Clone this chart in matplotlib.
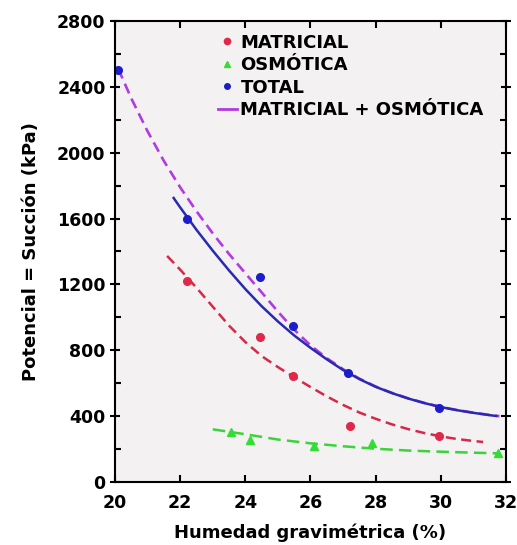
import matplotlib.pyplot as plt
from matplotlib.lines import Line2D
from matplotlib.ticker import MultipleLocator

# measured points
mat_x = [22.2, 24.45, 25.45, 27.2, 29.95]
mat_y = [1220, 882, 644, 340, 280]
osm_x = [23.55, 24.15, 26.1, 27.9, 31.75]
osm_y = [305, 258, 220, 237, 177]
tot_x = [20.1, 22.2, 24.45, 25.45, 27.15, 29.95]
tot_y = [2505, 1600, 1248, 950, 665, 450]

# fitted curves
fit_mat_x = [21.6, 22.0, 22.5, 23.0, 23.5, 24.0, 24.5, 25.0, 25.5, 26.0, 26.5,
             27.0, 27.5, 28.0, 28.5, 29.0, 29.5, 30.0, 30.5, 31.0, 31.3]
fit_mat_y = [1373, 1290, 1180, 1065, 950, 850, 765, 698, 636, 577, 520,
             468, 422, 384, 350, 321, 297, 277, 261, 249, 243]
fit_osm_x = [23.0, 24.0, 25.0, 26.0, 27.0, 28.0, 29.0, 30.0, 31.0, 31.8]
fit_osm_y = [320, 290, 258, 235, 217, 202, 191, 184, 178, 174]
fit_tot_x = [21.8, 22.0, 22.5, 23.0, 23.5, 24.0, 24.5, 25.0, 25.5, 26.0, 26.5,
             27.0, 27.5, 28.0, 28.5, 29.0, 29.5, 30.0, 30.5, 31.0, 31.5, 31.7]
fit_tot_y = [1725, 1668, 1532, 1405, 1285, 1172, 1068, 975, 890, 815, 745,
             680, 625, 578, 540, 507, 479, 455, 436, 420, 406, 401]
fit_sum_x = [20.1, 20.5, 21.0, 21.5, 22.0, 22.5, 23.0, 23.5, 24.0, 24.5, 25.0,
             25.5, 26.0, 26.5, 27.0, 27.5, 28.0, 28.5, 29.0, 29.5, 30.0, 30.5,
             31.0, 31.5, 31.8]
fit_sum_y = [2510, 2330, 2130, 1950, 1790, 1645, 1510, 1385, 1268, 1152, 1035,
             925, 830, 752, 685, 628, 580, 541, 508, 480, 456, 437,
             421, 407, 400]

c_red = '#e0284a'
c_green = '#33dd33'
c_blue = '#1c1cc8'
c_purple = '#b23be0'

plt.rcParams['font.family'] = 'DejaVu Sans'
plt.rcParams['font.weight'] = 'bold'

fig = plt.figure(figsize=(5.17, 5.45), dpi=100)
ax = fig.add_axes([0.2224, 0.1156, 0.7563, 0.8459])
ax.set_facecolor('#f3f1f1')

ax.plot(fit_sum_x, fit_sum_y, color=c_purple, lw=1.9, ls=(0, (4, 2.2)))
ax.plot(fit_tot_x, fit_tot_y, color='#2a2ab0', lw=1.8)
ax.plot(fit_mat_x, fit_mat_y, color='#d42a48', lw=1.8, ls=(0, (4, 2.2)))
ax.plot(fit_osm_x, fit_osm_y, color='#3ad43a', lw=1.8, ls=(0, (5, 2.5)))

ax.plot(mat_x, mat_y, 'o', color=c_red, ms=5.5)
ax.plot(osm_x, osm_y, '^', color=c_green, ms=6)
ax.plot(tot_x, tot_y, 'o', color=c_blue, ms=5.5, clip_on=False)

ax.set_xlim(20, 32)
ax.set_ylim(0, 2800)
ax.xaxis.set_major_locator(MultipleLocator(2))
ax.yaxis.set_major_locator(MultipleLocator(400))
ax.yaxis.set_minor_locator(MultipleLocator(200))

for s in ax.spines.values():
    s.set_linewidth(1.5)
ax.tick_params(axis='y', which='major', direction='inout', length=7.5, width=1.5,
               labelsize=12.5, right=True, pad=3)
ax.tick_params(axis='y', which='minor', direction='in', length=4.5, width=1.5, right=True)
ax.tick_params(axis='x', which='major', direction='in', length=5, width=1.5,
               labelsize=12.5, top=True, pad=9)

ax.set_xlabel('Humedad gravimétrica (%)', fontsize=13, fontweight='bold', labelpad=8)
ax.set_ylabel('Potencial = Succión (kPa)', fontsize=13, fontweight='bold', labelpad=12)

handles = [
    Line2D([], [], ls='none', marker='o', color=c_red, ms=4.5),
    Line2D([], [], ls='none', marker='^', color=c_green, ms=5),
    Line2D([], [], ls='none', marker='o', color=c_blue, ms=4),
    Line2D([], [], color=c_purple, lw=2),
]
labels = ['MATRICIAL', 'OSMÓTICA', 'TOTAL', 'MATRICIAL + OSMÓTICA']
leg = ax.legend(handles, labels, loc='upper left', bbox_to_anchor=(0.23, 1.0),
                frameon=False, fontsize=13, handlelength=1.1, handletextpad=0.17,
                labelspacing=0.25, borderaxespad=0.3)
for t in leg.get_texts():
    t.set_fontweight('bold')

fig.savefig('out.png', dpi=100)
